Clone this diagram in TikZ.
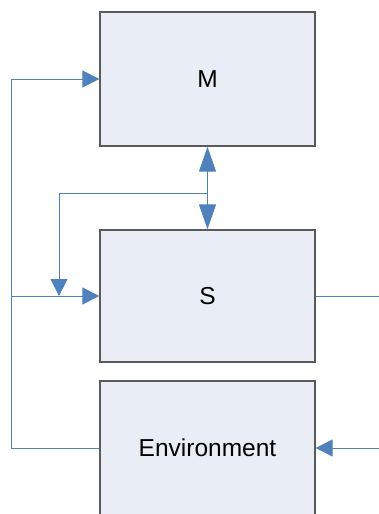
\documentclass[tikz,border=0pt]{standalone}
\usepackage{fontspec}
\setmainfont{Liberation Sans}
\usetikzlibrary{arrows.meta}
\definecolor{lineblue}{HTML}{4F81BD}
\definecolor{boxfill}{HTML}{E9EEF6}
\definecolor{boxedge}{HTML}{5A5A5A}
\tikzset{
  block/.style={draw=boxedge, line width=1.3pt, fill=boxfill, minimum width=215pt, inner sep=0pt, font=\fontsize{24.5}{28}\selectfont},
  conn/.style={draw=lineblue, line width=1pt},
  tipshort/.style={-{Triangle[length=17pt,width=17pt]}},
  tiplong/.style={{Triangle[length=25pt,width=17pt]}-{Triangle[length=25pt,width=17pt]}}
}
\begin{document}
\begin{tikzpicture}[x=1pt,y=-1pt]
\useasboundingbox (0,0) rectangle (379,514);
\clip (0,0) rectangle (379,514);
\node[block, minimum height=134pt] (m) at (207.5,79) {M};
\node[block, minimum height=132pt] (s) at (207.5,296) {S};
\node[block, minimum height=134pt] (env) at (207.5,448) {Environment};
\coordinate (lft) at (11,448);
\coordinate (lmid) at (11,296);
\coordinate (br) at (207.5,193);
\coordinate (tipd) at (59,296);
\coordinate (sout) at (379,296);
\coordinate (ein) at (379,448);
\draw[conn, tipshort] (env.west) -- (lft) |- (m.west);
\draw[conn, tipshort] (lmid) -- (s.west);
\draw[conn, tiplong] (m.south) -- (s.north);
\draw[conn, tipshort] (br) -| (tipd);
\draw[conn] (s.east) -- (sout);
\draw[conn, tipshort] (ein) -- (env.east);
\end{tikzpicture}
\end{document}
